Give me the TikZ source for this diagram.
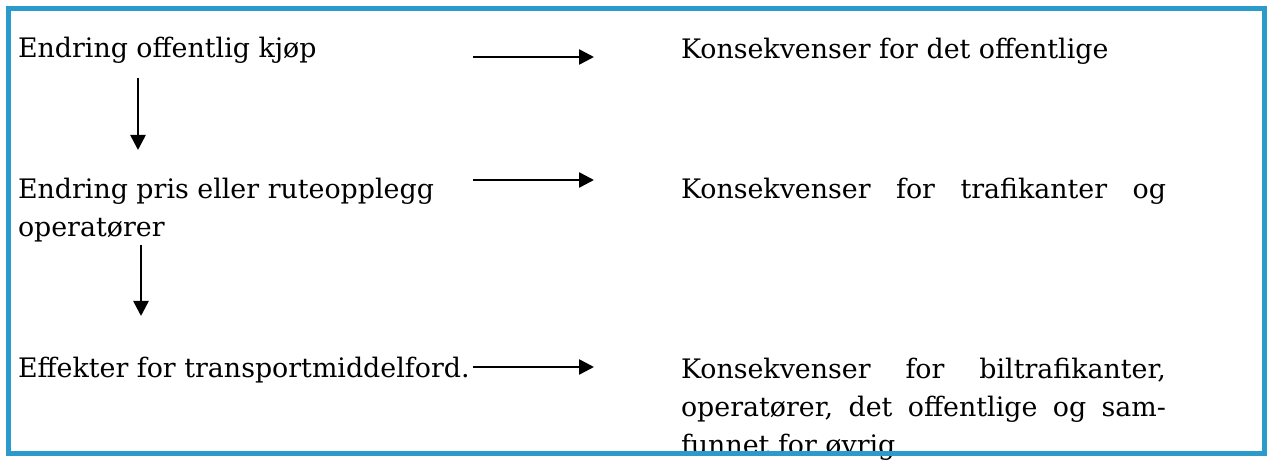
\documentclass[tikz,border=0pt]{standalone}
\usepackage{fontspec}
\setmainfont{DejaVu Serif}
\usetikzlibrary{arrows.meta}
\definecolor{frameblue}{RGB}{42,155,203}
\tikzset{
  txt/.style={anchor=base west, inner sep=0pt, outer sep=0pt, font=\fontsize{26.85}{38}\selectfont},
  flow/.style={line width=2.6pt, -{Triangle[length=15pt,width=15pt]}},
  frame/.style={draw=frameblue, line width=5pt}
}
\begin{document}
\begin{tikzpicture}[x=1pt,y=-1pt]
\useasboundingbox (0,0) rectangle (1269,462);
% left column
\node[txt] (l1) at (18,58) {Endring offentlig kjøp};
\node[txt, align=left] (l2) at (18,237) {Endring pris eller ruteopplegg\\operatører};
\node[txt] (l3) at (18,377) {Effekter for transportmiddelford.};
% right column
\node[txt] (r1) at (681,59) {Konsekvenser for det offentlige};
\node[txt] (r2) at (681,199) {\hbox to 485pt{Konsekvenser\hfill for\hfill trafikanter\hfill og}};
\node[txt, align=left] (r3) at (681,454) {\hbox to 485pt{Konsekvenser\hfill for\hfill biltrafikanter,}\\\hbox to 485pt{operatører,\hfill det\hfill offentlige\hfill og\hfill sam-}\\funnet for øvrig};
% arrow end points
\coordinate (a1s) at (473,57);  \coordinate (a1e) at (594,57);
\coordinate (a2s) at (473,180); \coordinate (a2e) at (594,180);
\coordinate (a3s) at (473,367); \coordinate (a3e) at (594,367);
\coordinate (d1s) at (138,78);  \coordinate (d1e) at (138,150);
\coordinate (d2s) at (141,245); \coordinate (d2e) at (141,316);
\draw[flow] (a1s) -- (a1e);
\draw[flow] (a2s) -- (a2e);
\draw[flow] (a3s) -- (a3e);
\draw[flow] (d1s) -- (d1e);
\draw[flow] (d2s) -- (d2e);
% frame
\draw[frame] (8,9) rectangle (1264,453);
\end{tikzpicture}
\end{document}
